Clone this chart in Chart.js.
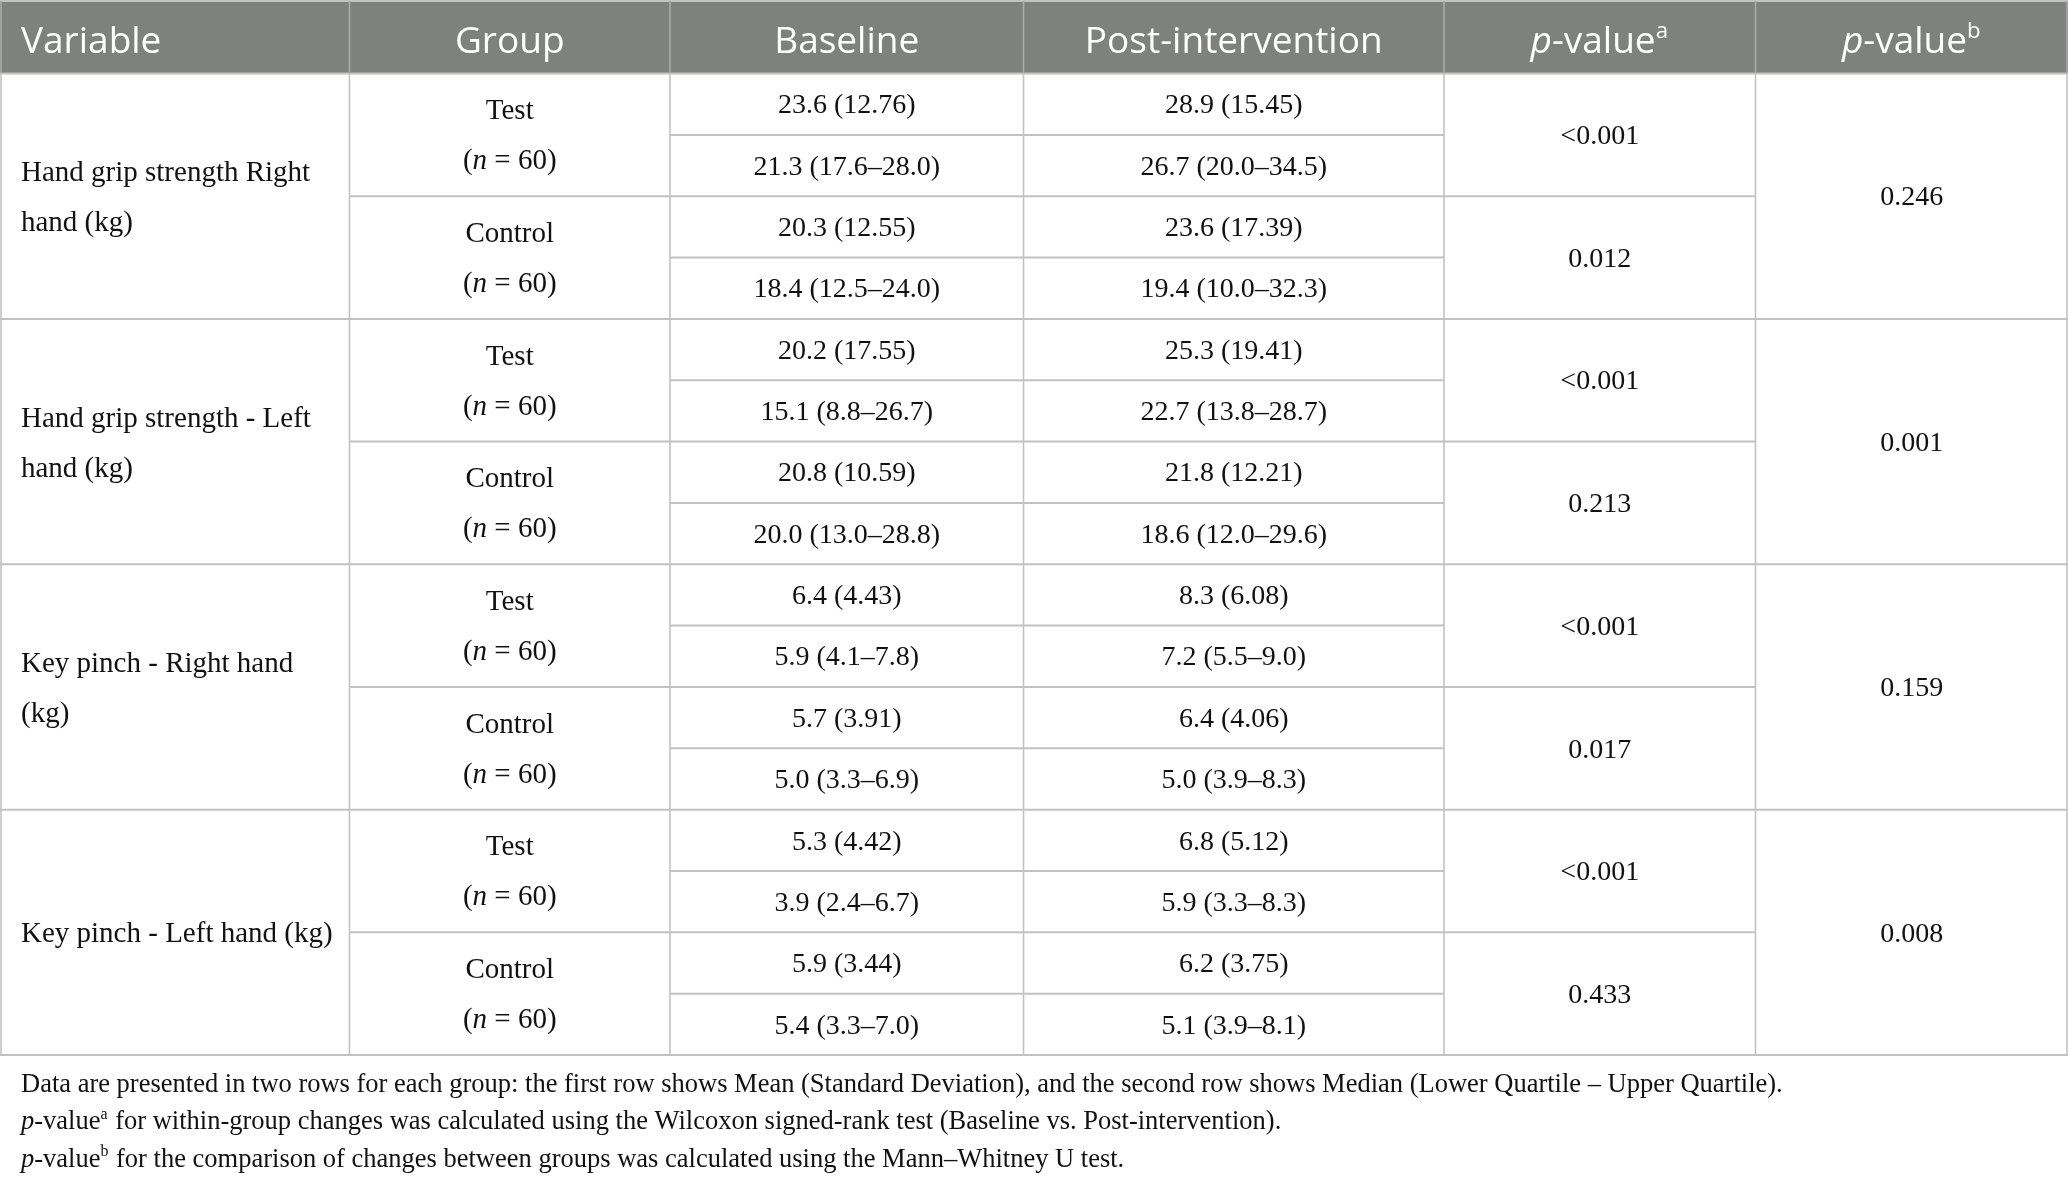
<!DOCTYPE html>
<html lang="en">
<head>
    <meta charset="UTF-8">
    <title>Hand grip and key pinch table</title>
    <script src="https://cdn.jsdelivr.net/npm/chart.js"></script>
    <style>
        body { margin: 0; background: #fff; }
        .wrap { width: 2068px; height: 1182px; position: relative; }
    </style>
</head>
<body>
<div class="wrap"><canvas id="tableChart"></canvas></div>

<script>
    // table content
    const columns = ['Variable', 'Group', 'Baseline', 'Post-intervention', 'p-value a', 'p-value b'];
    const variableLines = [
        ['Hand grip strength Right', 'hand (kg)'],
        ['Hand grip strength - Left', 'hand (kg)'],
        ['Key pinch - Right hand', '(kg)'],
        ['Key pinch - Left hand (kg)']
    ];
    const groups = ['Test', 'Control'];
    const groupSize = 60;
    const baselineMean = ['23.6 (12.76)', '20.3 (12.55)', '20.2 (17.55)', '20.8 (10.59)', '6.4 (4.43)', '5.7 (3.91)', '5.3 (4.42)', '5.9 (3.44)'];
    const baselineMedian = ['21.3 (17.6–28.0)', '18.4 (12.5–24.0)', '15.1 (8.8–26.7)', '20.0 (13.0–28.8)', '5.9 (4.1–7.8)', '5.0 (3.3–6.9)', '3.9 (2.4–6.7)', '5.4 (3.3–7.0)'];
    const postMean = ['28.9 (15.45)', '23.6 (17.39)', '25.3 (19.41)', '21.8 (12.21)', '8.3 (6.08)', '6.4 (4.06)', '6.8 (5.12)', '6.2 (3.75)'];
    const postMedian = ['26.7 (20.0–34.5)', '19.4 (10.0–32.3)', '22.7 (13.8–28.7)', '18.6 (12.0–29.6)', '7.2 (5.5–9.0)', '5.0 (3.9–8.3)', '5.9 (3.3–8.3)', '5.1 (3.9–8.1)'];
    const pWithin = ['<0.001', '0.012', '<0.001', '0.213', '<0.001', '0.017', '<0.001', '0.433'];
    const pBetween = ['0.246', '0.001', '0.159', '0.008'];
    const footnotes = [
        [{t: 'Data are presented in two rows for each group: the first row shows Mean (Standard Deviation), and the second row shows Median (Lower Quartile – Upper Quartile).'}],
        [{t: 'p', i: true}, {t: '-value'}, {t: 'a', sup: true}, {t: ' for within-group changes was calculated using the Wilcoxon signed-rank test (Baseline vs. Post-intervention).'}],
        [{t: 'p', i: true}, {t: '-value'}, {t: 'b', sup: true}, {t: ' for the comparison of changes between groups was calculated using the Mann–Whitney U test.'}]
    ];

    // layout (x in px units, y in sub-row units)
    const colEdges = [0, 349.5, 670, 1023.5, 1444, 1755.5, 2068];
    const headerRows = 1.183;
    const cellPad = 21;
    const SERIF = '"Liberation Serif", "Times New Roman", serif';
    const SANS = '"Open Sans", "Noto Sans", sans-serif';
    const HEADER_BG = '#7f817f';
    const LINE = '#c2c2c2';
    const INK = '#111111';

    const colCenter = c => (colEdges[c] + colEdges[c + 1]) / 2;
    const nLine = [{t: '('}, {t: 'n', i: true}, {t: ' = ' + groupSize + ')'}];

    // one point per cell, the plugin writes the cell text at the point
    const cellSets = [];
    cellSets.push({
        label: 'Variable',
        data: variableLines.map((v, i) => ({x: colEdges[0] + cellPad, y: 4 * i + 2.04})),
        cellText: variableLines, align: 'left', size: 29, gap: 50
    });
    const groupPts = [], groupTxt = [];
    for (let g = 0; g < 8; g++) {
        groupPts.push({x: colCenter(1), y: 2 * g + 1.03});
        groupTxt.push([groups[g % 2], nLine]);
    }
    cellSets.push({label: 'Group', data: groupPts, cellText: groupTxt, align: 'center', size: 29, gap: 50});
    const basePts = [], baseTxt = [], postPts = [], postTxt = [];
    for (let g = 0; g < 8; g++) {
        basePts.push({x: colCenter(2), y: 2 * g + 0.53}, {x: colCenter(2), y: 2 * g + 1.53});
        baseTxt.push([baselineMean[g]], [baselineMedian[g]]);
        postPts.push({x: colCenter(3), y: 2 * g + 0.53}, {x: colCenter(3), y: 2 * g + 1.53});
        postTxt.push([postMean[g]], [postMedian[g]]);
    }
    cellSets.push({label: 'Baseline', data: basePts, cellText: baseTxt, align: 'center', size: 28});
    cellSets.push({label: 'Post-intervention', data: postPts, cellText: postTxt, align: 'center', size: 28});
    cellSets.push({
        label: 'p-value a',
        data: pWithin.map((p, g) => ({x: colCenter(4), y: 2 * g + 1.03})),
        cellText: pWithin.map(p => [p]), align: 'center', size: 28
    });
    cellSets.push({
        label: 'p-value b',
        data: pBetween.map((p, i) => ({x: colCenter(5), y: 4 * i + 2.03})),
        cellText: pBetween.map(p => [p]), align: 'center', size: 28
    });

    // draws a line made of plain / italic / superscript pieces
    function drawRich(ctx, line, x, y, align, size, family, color) {
        const segs = typeof line === 'string' ? [{t: line}] : line;
        const fontOf = s => (s.i ? 'italic ' : '') + (s.sup ? size * 0.6 : size).toFixed(1) + 'px ' + family;
        let total = 0;
        segs.forEach(s => { ctx.font = fontOf(s); total += ctx.measureText(s.t).width + (s.sup ? 1 : 0); });
        let cx = align === 'left' ? x : x - total / 2;
        ctx.fillStyle = color;
        ctx.textAlign = 'left';
        ctx.textBaseline = 'middle';
        segs.forEach(s => {
            ctx.font = fontOf(s);
            ctx.fillText(s.t, cx, s.sup ? y - size * 0.3 : y);
            cx += ctx.measureText(s.t).width + (s.sup ? 1 : 0);
        });
    }

    const tablePlugin = {
        id: 'tableCells',
        beforeDatasetsDraw(chart) {
            const {ctx, scales: {x, y}} = chart;
            const top = y.getPixelForValue(-headerRows);
            const hb = y.getPixelForValue(0);
            const left = x.getPixelForValue(colEdges[0]);
            const right = x.getPixelForValue(colEdges[colEdges.length - 1]);
            ctx.save();
            ctx.fillStyle = HEADER_BG;
            ctx.fillRect(left, top, right - left, hb - top);
            ctx.strokeStyle = LINE;
            ctx.lineWidth = 2;
            const hline = (yv, c0, c1) => {
                ctx.beginPath();
                ctx.moveTo(x.getPixelForValue(colEdges[c0]), y.getPixelForValue(yv));
                ctx.lineTo(x.getPixelForValue(colEdges[c1]), y.getPixelForValue(yv));
                ctx.stroke();
            };
            hline(-headerRows, 0, 6);
            hline(0, 0, 6);
            for (let r = 1; r <= 16; r++) {
                if (r % 4 === 0) hline(r, 0, 6);
                else if (r % 2 === 0) hline(r, 1, 5);
                else hline(r, 2, 4);
            }
            ctx.lineWidth = 1.6;
            colEdges.forEach((e, c) => {
                const px = Math.min(Math.max(x.getPixelForValue(e), left + 1), right - 1);
                ctx.strokeStyle = '#a9aaa9';
                ctx.beginPath();
                ctx.moveTo(px, top);
                ctx.lineTo(px, hb);
                ctx.stroke();
                ctx.strokeStyle = LINE;
                ctx.beginPath();
                ctx.moveTo(px, hb);
                ctx.lineTo(px, y.getPixelForValue(16));
                ctx.stroke();
            });
            // header labels
            const hy = (top + hb) / 2 + 5;
            columns.forEach((name, c) => {
                let line = name;
                if (name.startsWith('p-value')) {
                    line = [{t: 'p', i: true}, {t: '-value'}, {t: name.slice(-1), sup: true}];
                }
                const hx = c === 0 ? x.getPixelForValue(colEdges[0] + cellPad) : x.getPixelForValue(colCenter(c));
                drawRich(ctx, line, hx, hy, c === 0 ? 'left' : 'center', 37, SANS, '#ffffff');
            });
            ctx.restore();
        },
        afterDatasetsDraw(chart) {
            const {ctx} = chart;
            ctx.save();
            chart.data.datasets.forEach((ds, di) => {
                const meta = chart.getDatasetMeta(di);
                meta.data.forEach((pt, i) => {
                    const lines = ds.cellText[i];
                    const gap = ds.gap || 0;
                    const y0 = pt.y - gap * (lines.length - 1) / 2;
                    lines.forEach((ln, k) => {
                        drawRich(ctx, ln, pt.x, y0 + k * gap, ds.align, ds.size, SERIF, INK);
                    });
                });
            });
            ctx.restore();
        },
        afterDraw(chart) {
            const {ctx, chartArea} = chart;
            ctx.save();
            footnotes.forEach((ln, k) => {
                drawRich(ctx, ln, chartArea.left + cellPad, chartArea.bottom + 30 + k * 37.5, 'left', 26.5, SERIF, INK);
            });
            ctx.restore();
        }
    };

    new Chart(document.getElementById('tableChart'), {
        type: 'scatter',
        data: {datasets: cellSets.map(s => Object.assign({pointRadius: 0, pointHoverRadius: 0, showLine: false}, s))},
        options: {
            responsive: true,
            maintainAspectRatio: false,
            animation: false,
            events: [],
            layout: {padding: {top: 1, left: 0, right: 0, bottom: 1182 - 1055}},
            plugins: {legend: {display: false}, tooltip: {enabled: false}},
            scales: {
                x: {type: 'linear', display: false, min: colEdges[0], max: colEdges[colEdges.length - 1]},
                y: {type: 'linear', display: false, reverse: true, min: -headerRows, max: 16}
            }
        },
        plugins: [tablePlugin]
    });
</script>
</body>
</html>
